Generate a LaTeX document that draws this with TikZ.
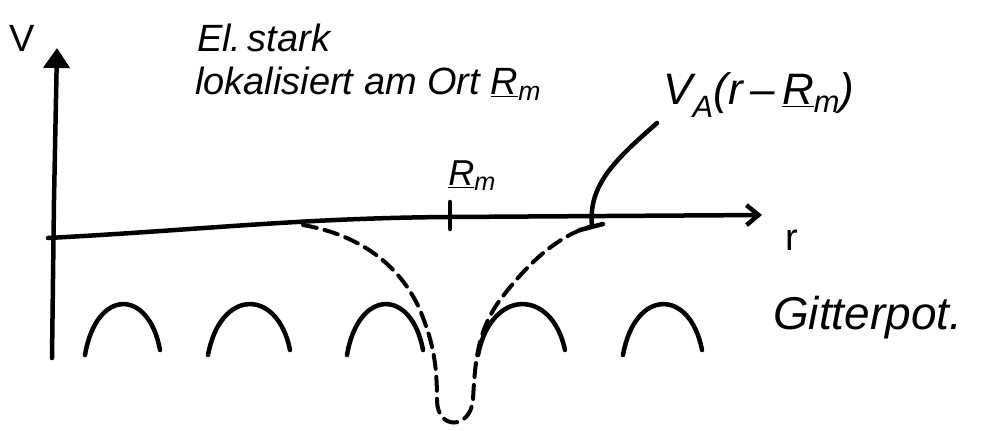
\documentclass[tikz,border=0pt]{standalone}
\usepackage{fontspec}
\setmainfont{Liberation Sans}
\usetikzlibrary{arrows.meta}
\begin{document}
\begin{tikzpicture}[x=1pt,y=-1pt,
  ink/.style={line width=4.5pt, line cap=round, line join=round},
  archline/.style={ink},
  well/.style={line width=4pt, dash pattern=on 14pt off 8pt, line cap=round},
  lbl/.style={font=\itshape\fontsize{38}{42}\selectfont, inner sep=0pt},
  biglbl/.style={font=\fontsize{38}{42}\selectfont, inner sep=0pt}]
\useasboundingbox[fill=white] (0,0) rectangle (989,431);
% axes
\coordinate (vbot) at (52,358);
\coordinate (vtop) at (57,48);
\draw[ink,-{Triangle[length=20pt,width=26pt]}] (vbot) -- (54,200) -- (vtop);
\coordinate (h0) at (48,238);
\coordinate (hm) at (450,217);
\coordinate (hend) at (762,215);
\draw[ink,-{Straight Barb[length=12pt,width=20pt]}] (h0) .. controls (200,230) and (300,218) .. (hm) -- (hend);
\node[biglbl] (V) at (22,38) {V};
\node[biglbl] (r) at (792,240) {r};
% tick at R_m
\coordinate (t1) at (450,202);
\coordinate (t2) at (450,229);
\draw[ink] (t1) -- (t2);
\node[lbl,font=\itshape\fontsize{36}{40}\selectfont] (Rm) at (472,176) {\underline{R}\textsubscript{m}};
% labels top
\node[lbl,anchor=west] (el) at (197,38) {El.\,stark};
\node[lbl,anchor=west] (lok) at (195,84) {lokalisiert am Ort \underline{R}\textsubscript{m}};
\node[lbl,anchor=west,font=\itshape\fontsize{44}{48}\selectfont] (VA) at (663,95) {V\textsubscript{A}(r\,--\,\underline{R}\textsubscript{m})};
% pointer
\coordinate (p1) at (580,230);
\coordinate (p2) at (603,224);
\draw[ink] (p1) -- (p2);
\coordinate (pt) at (592,226);
\draw[ink] (657,123) .. controls (615,160) and (588,185) .. (pt);
% lattice potential arches
\foreach \a/\b in {85/160, 208/290, 347/423, 478/565, 623/702}{
  \draw[archline] (\a,355) .. controls ({\a+(\b-\a)*0.15},288) and ({\a+(\b-\a)*0.85},288) .. (\b,350);
}
\node[lbl,anchor=west,font=\itshape\fontsize{46}{50}\selectfont] (gp) at (773,318) {Gitterpot.};
% dashed well
\draw[well] (303,225) .. controls (360,235) and (400,265) .. (420,310)
  .. controls (432,340) and (437,360) .. (437,400)
  .. controls (437,430) and (470,430) .. (473,400)
  .. controls (475,360) and (478,330) .. (500,300)
  .. controls (530,260) and (560,235) .. (pt);
\end{tikzpicture}
\end{document}
